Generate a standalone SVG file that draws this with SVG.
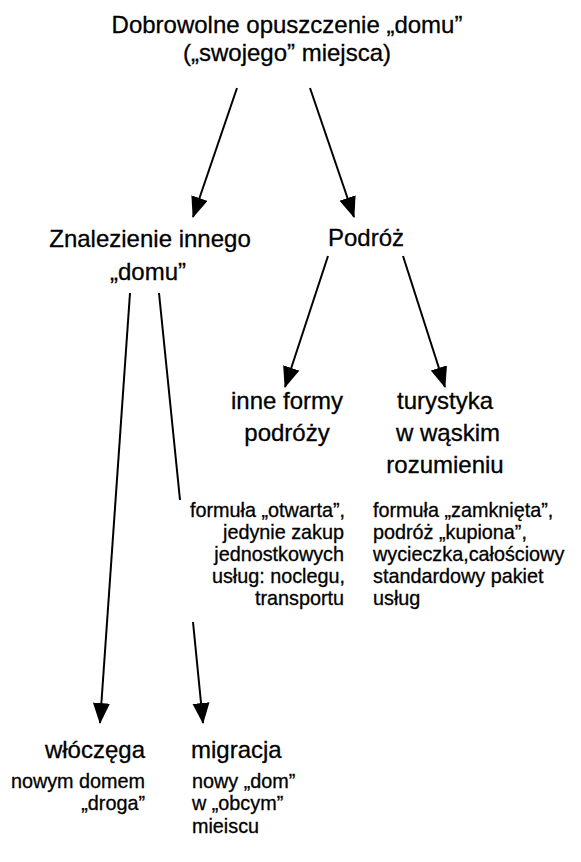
<svg xmlns="http://www.w3.org/2000/svg" width="581" height="862" viewBox="0 0 581 862">
<style>
text{font-family:"Liberation Sans",Arial,sans-serif;fill:#000;stroke:#000;stroke-width:0.3}
.big{font-size:24px}
.small{font-size:19.8px}
.c{text-anchor:middle}
.r{text-anchor:end}
.conn line{stroke:#000;stroke-width:2;fill:none}
</style>
<defs>
<marker id="ah" markerUnits="userSpaceOnUse" markerWidth="22" markerHeight="18" refX="20" refY="8.5" orient="auto">
<path d="M0,0 L21,8.5 L0,17 Z" fill="#000"/>
</marker>
</defs>
<rect width="581" height="862" fill="#fff"/>
<g id="root">
<text class="big c" x="287" y="33">Dobrowolne opuszczenie „domu”</text>
<text class="big c" x="287" y="61">(„swojego” miejsca)</text>
</g>
<g id="znalezienie">
<text class="big c" x="150" y="247">Znalezienie innego</text>
<text class="big c" x="148" y="280">„domu”</text>
</g>
<g id="podroz">
<text class="big c" x="366" y="246">Podróż</text>
</g>
<g id="inne">
<text class="big c" x="287" y="409">inne formy</text>
<text class="big c" x="287" y="441">podróży</text>
</g>
<g id="turystyka">
<text class="big c" x="445" y="409">turystyka</text>
<text class="big c" x="448" y="441">w wąskim</text>
<text class="big c" x="445" y="473">rozumieniu</text>
</g>
<g id="otwarta">
<text class="small r" x="345" y="517">formuła „otwarta”,</text>
<text class="small r" x="344" y="539">jedynie zakup</text>
<text class="small r" x="344" y="561">jednostkowych</text>
<text class="small r" x="345" y="583">usług: noclegu,</text>
<text class="small r" x="344" y="605">transportu</text>
</g>
<g id="zamknieta">
<text class="small" x="373" y="517">formuła „zamknięta”,</text>
<text class="small" x="373" y="539">podróż „kupiona”,</text>
<text class="small" x="373" y="561">wycieczka,całościowy</text>
<text class="small" x="373" y="583">standardowy pakiet</text>
<text class="small" x="373" y="605">usług</text>
</g>
<g id="wloczega">
<text class="big r" x="145" y="758">włóczęga</text>
<text class="small r" x="145" y="788">nowym domem</text>
<text class="small r" x="145" y="810">„droga”</text>
</g>
<g id="migracja">
<text class="big" x="191" y="758">migracja</text>
<text class="small" x="192" y="788">nowy „dom”</text>
<text class="small" x="192" y="810">w „obcym”</text>
<text class="small" x="192" y="833">mieiscu</text>
</g>
<g class="conn" id="connectors">
<line x1="237" y1="88" x2="193" y2="217" marker-end="url(#ah)"/>
<line x1="310" y1="88" x2="354" y2="217" marker-end="url(#ah)"/>
<line x1="328" y1="256" x2="285" y2="387" marker-end="url(#ah)"/>
<line x1="403" y1="256" x2="445" y2="387" marker-end="url(#ah)"/>
<line x1="130" y1="293" x2="100" y2="723" marker-end="url(#ah)"/>
<line x1="159" y1="293" x2="180" y2="500"/>
<line x1="193" y1="622" x2="203" y2="723" marker-end="url(#ah)"/>
</g>
</svg>
